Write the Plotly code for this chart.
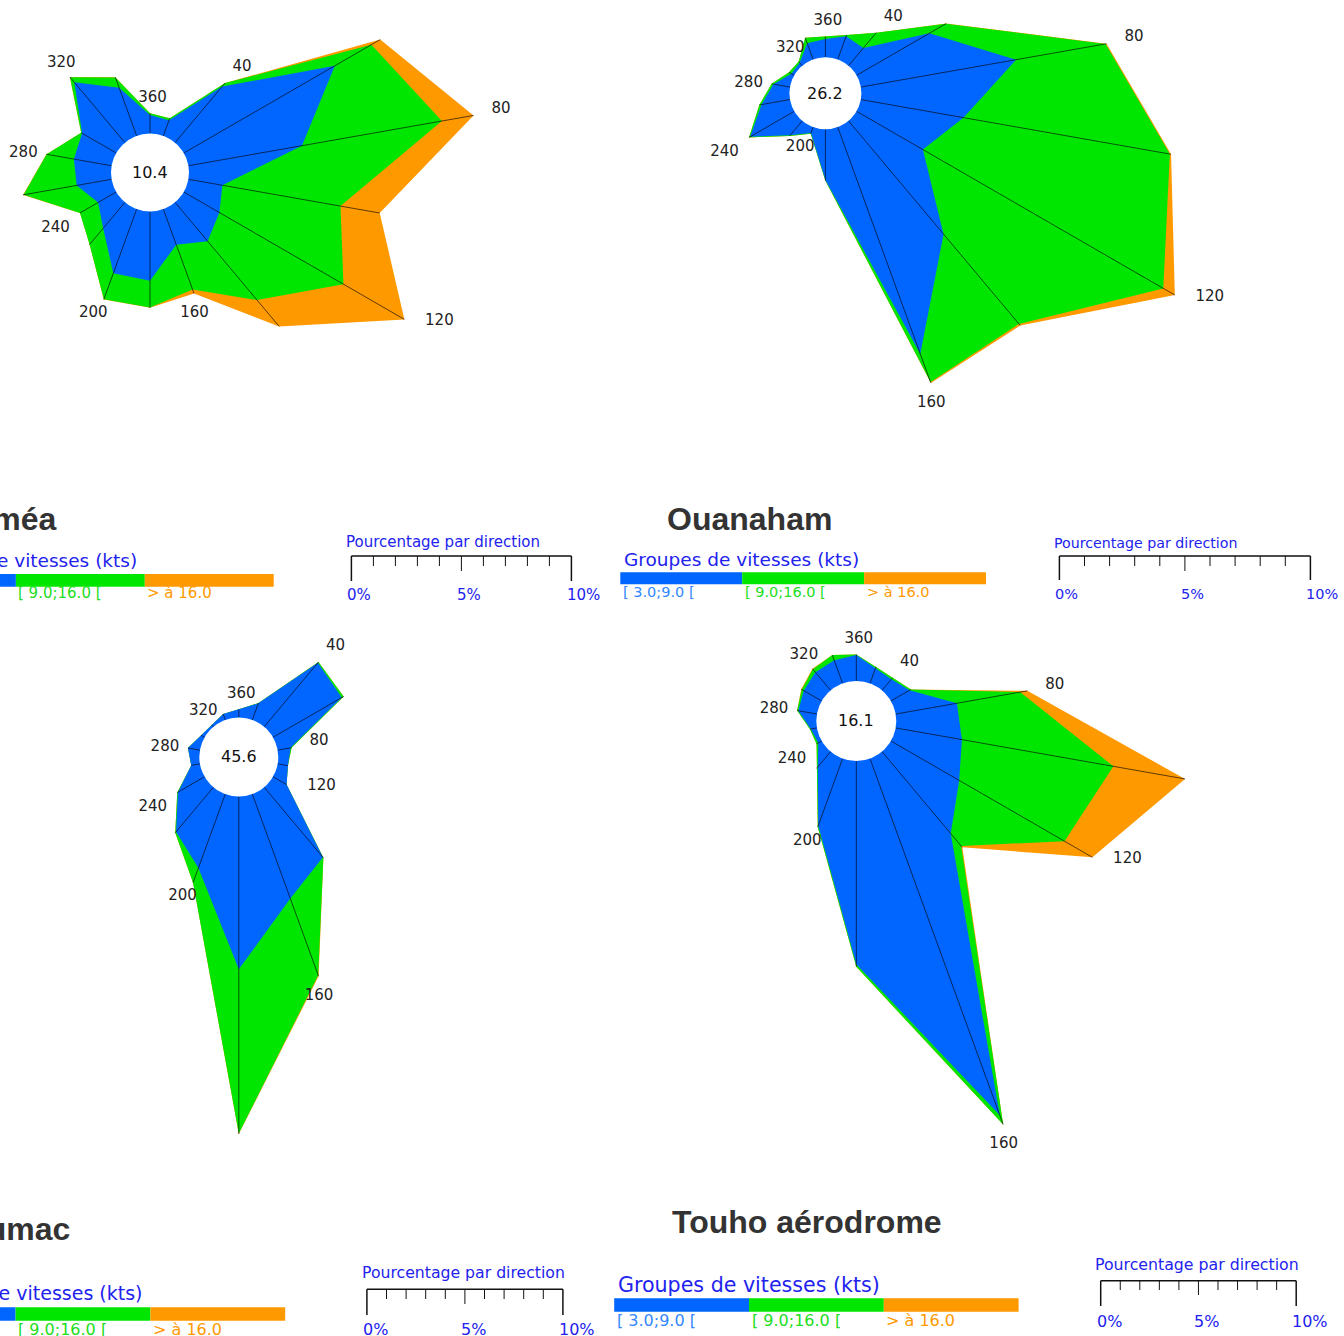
import numpy as np
import plotly.graph_objects as go

W, H = 1344, 1336

# ---------------- data ----------------
DIRECTIONS = list(range(20, 361, 20))          # 20 .. 360 degrees
LABELED_DIRECTIONS = [40, 80, 120, 160, 200, 240, 280, 320, 360]
STATIONS = ["Nouméa", "Ouanaham", "Koumac", "Touho aérodrome"]
CALM = [10.4, 26.2, 45.6, 16.1]
SPEED_GROUPS = ["[ 3.0;9.0 [", "[ 9.0;16.0 [", "> à 16.0"]
LEGEND_TITLE = "Groupes de vitesses (kts)"
SCALE_TITLE = "Pourcentage par direction"
SCALE_TICK_VALUES = [0, 5, 10]
SCALE_TICK_LABELS = ["0%", "5%", "10%"]

# percentages per direction (20,40,...,360) and speed group
NOUMEA_3_9 = [0.75, 3.33, 7.93, 5.24, 1.57, 1.87, 2.30, 1.72, 3.15, 3.10, 1.54, 0.95, 1.61, 1.74, 1.79, 3.58, 2.33, 0.84]
NOUMEA_9_16 = [0.10, 0.21, 1.92, 6.46, 5.45, 6.51, 3.50, 2.17, 1.21, 1.26, 0.96, 0.95, 2.45, 1.26, 0.05, 0.30, 0.49, 0.08]
NOUMEA_GT16 = [0.00, 0.00, 0.46, 1.46, 1.81, 3.20, 1.56, 0.19, 0.02, 0.01, 0.00, 0.00, 0.03, 0.01, 0.00, 0.02, 0.01, 0.00]

OUANAHAM_3_9 = [0.98, 0.92, 3.35, 6.28, 4.15, 3.05, 5.89, 9.62, 2.02, 0.25, 0.75, 2.03, 1.15, 0.67, 0.13, 0.16, 0.69, 0.73]
OUANAHAM_9_16 = [0.06, 0.80, 0.76, 3.62, 8.35, 11.06, 4.67, 1.19, 0.03, 0.03, 0.03, 0.05, 0.09, 0.07, 0.11, 0.06, 0.23, 0.09]
OUANAHAM_GT16 = [0.00, 0.00, 0.01, 0.04, 0.05, 0.53, 0.08, 0.04, 0.00, 0.00, 0.00, 0.00, 0.00, 0.00, 0.00, 0.00, 0.00, 0.00]

KOUMAC_3_9 = [0.90, 4.26, 4.05, 0.67, 0.53, 0.80, 4.66, 5.67, 8.82, 4.01, 2.97, 1.57, 0.45, 0.62, 0.20, 0.13, 0.32, 0.42]
KOUMAC_9_16 = [0.02, 0.05, 0.11, 0.05, 0.00, 0.00, 0.04, 4.16, 8.37, 0.80, 0.06, 0.04, 0.00, 0.00, 0.00, 0.00, 0.00, 0.00]
KOUMAC_GT16 = [0.00, 0.00, 0.00, 0.00, 0.00, 0.00, 0.00, 0.06, 0.03, 0.00, 0.00, 0.00, 0.00, 0.00, 0.00, 0.00, 0.00, 0.00]

TOUHO_3_9 = [0.82, 0.75, 1.10, 3.18, 3.44, 4.03, 5.47, 19.42, 10.40, 3.65, 1.02, 0.20, 0.32, 0.97, 1.06, 1.21, 1.26, 1.33]
TOUHO_9_16 = [0.08, 0.09, 0.08, 3.28, 7.87, 6.22, 0.83, 0.50, 0.13, 0.07, 0.10, 0.10, 0.04, 0.06, 0.11, 0.20, 0.28, 0.03]
TOUHO_GT16 = [0.00, 0.00, 0.00, 0.38, 3.72, 1.65, 0.09, 0.00, 0.00, 0.00, 0.00, 0.00, 0.00, 0.00, 0.04, 0.04, 0.00, 0.00]

SERIES = [
    (NOUMEA_3_9, NOUMEA_9_16, NOUMEA_GT16),
    (OUANAHAM_3_9, OUANAHAM_9_16, OUANAHAM_GT16),
    (KOUMAC_3_9, KOUMAC_9_16, KOUMAC_GT16),
    (TOUHO_3_9, TOUHO_9_16, TOUHO_GT16),
]

# ---------------- style / layout ----------------
COLORS = ["#0066ff", "#00e600", "#ff9900"]
LABEL_COLORS = ["#3388ff", "#22dd22", "#ff9900"]
TEXT_BLUE = "#2222ee"
FONT = "DejaVu Sans"
TITLE_FONT = "Liberation Sans, Arial"

# rose geometry in pixels: centre, hole radius, pixels per percent, subplot area
PANELS = [
    dict(center=(150.0, 172.5), hole=39.0, k=22.0, dom_x=(0, 672), dom_y=(0, 470)),
    dict(center=(825.4, 93.3), hole=36.0, k=25.1, dom_x=(672, 1344), dom_y=(0, 470)),
    dict(center=(238.8, 757.0), hole=39.5, k=19.6, dom_x=(0, 672), dom_y=(620, 1200)),
    dict(center=(856.3, 721.0), hole=40.0, k=19.55, dom_x=(672, 1344), dom_y=(620, 1200)),
]
# direction label offsets (px, y down) from the outer vertex
LABEL_OFFSET = {360: (2.5, -15.5), 40: (17, -15.5), 80: (27.5, -6), 120: (35, 1.8),
                160: (0.5, 20), 200: (-10.5, 14), 240: (-24.5, 15), 280: (-23, -1),
                320: (-8.5, -13.5)}

# legends / scale bars, pixel positions
LEGENDS = [
    dict(title=(58, 518.5, "right"), lg=(139, 560.3, "right", 18.5), bar=(-113.0, 128.9, 574, 586.7),
         lab=(593.5, 15), sc=(344.4, 541.5, 15), x0=351.4, line_y=556, t_long=581, t_mid=571,
         t_min=566, sc_lab=(595, 15)),
    dict(title=(749.5, 518.5, "center"), lg=(621.7, 559.3, "left", 18.5), bar=(620.3, 121.9, 572.3, 584.3),
         lab=(592.3, 14.5), sc=(1052.4, 542.5, 14.2), x0=1059.4, line_y=556, t_long=580, t_mid=571,
         t_min=566, sc_lab=(594.5, 14.5)),
    dict(title=(72, 1228.5, "right"), lg=(144.7, 1292.6, "right", 19), bar=(-119.2, 134.8, 1307.3, 1320.7),
         lab=(1329, 16), sc=(360, 1272.5, 15.7), x0=366.9, line_y=1289.3, t_long=1315, t_mid=1304,
         t_min=1299, sc_lab=(1329, 16)),
    dict(title=(807, 1221.5, "center"), lg=(615.7, 1284.6, "left", 20.6), bar=(614.2, 134.8, 1298.3, 1311.7),
         lab=(1320, 16), sc=(1092.6, 1264.5, 15.75), x0=1100.7, line_y=1280.7, t_long=1306, t_mid=1295,
         t_min=1290, sc_lab=(1321, 16)),
]


def px(x):
    return x / W


def py(y):
    return 1 - y / H


fig = go.Figure()
layout = dict(width=W, height=H, margin=dict(l=0, r=0, t=0, b=0), paper_bgcolor="white",
              plot_bgcolor="rgba(0,0,0,0)", showlegend=False)
shapes, annotations = [], []
theta = np.deg2rad(DIRECTIONS)

for i, (name, calm, series, panel, leg) in enumerate(zip(STATIONS, CALM, SERIES, PANELS, LEGENDS)):
    n = "" if i == 0 else str(i + 1)
    xa, ya = "x" + n, "y" + n
    cx, cy = panel["center"]
    k = panel["k"]
    h = panel["hole"] / k
    (x0d, x1d), (y0d, y1d) = panel["dom_x"], panel["dom_y"]
    layout["xaxis" + n] = dict(domain=[x0d / W, x1d / W], range=[(x0d - cx) / k, (x1d - cx) / k],
                               visible=False, fixedrange=True, anchor=ya)
    layout["yaxis" + n] = dict(domain=[1 - y1d / H, 1 - y0d / H], range=[(cy - y1d) / k, (cy - y0d) / k],
                               visible=False, fixedrange=True, anchor=xa)

    cum = np.cumsum(np.array(series, dtype=float), axis=0)   # blue, blue+green, total
    for level in (2, 1, 0):
        r = h + cum[level]
        xs = list(r * np.sin(theta)) + [r[0] * np.sin(theta[0])]
        ys = list(r * np.cos(theta)) + [r[0] * np.cos(theta[0])]
        fig.add_trace(go.Scatter(x=xs, y=ys, mode="lines", fill="toself", fillcolor=COLORS[level],
                                 line=dict(width=0, color=COLORS[level]), hoverinfo="skip",
                                 xaxis=xa, yaxis=ya))
    # spokes
    sx, sy = [], []
    for t, tot in zip(theta, cum[2]):
        sx += [h * np.sin(t), (h + tot) * np.sin(t), None]
        sy += [h * np.cos(t), (h + tot) * np.cos(t), None]
    fig.add_trace(go.Scatter(x=sx, y=sy, mode="lines", line=dict(width=0.7, color="rgba(0,0,0,0.9)"),
                             hoverinfo="skip", xaxis=xa, yaxis=ya))
    # direction labels
    lx, ly, lt = [], [], []
    for d in LABELED_DIRECTIONS:
        j = DIRECTIONS.index(d)
        r = h + cum[2][j]
        ox, oy = LABEL_OFFSET[d]
        lx.append(r * np.sin(theta[j]) + ox / k)
        ly.append(r * np.cos(theta[j]) - oy / k)
        lt.append(str(d))
    fig.add_trace(go.Scatter(x=lx, y=ly, mode="text", text=lt, cliponaxis=False,
                             textfont=dict(family=FONT, size=15, color="#222222"),
                             hoverinfo="skip", xaxis=xa, yaxis=ya))
    # calm circle
    shapes.append(dict(type="circle", xref=xa, yref=ya, x0=-h, x1=h, y0=-h, y1=h,
                       fillcolor="white", line=dict(width=0), layer="above"))
    annotations.append(dict(xref=xa, yref=ya, x=0, y=0, text=f"{calm:.1f}", showarrow=False,
                            font=dict(family=FONT, size=16, color="#111111")))

    # station title
    tx, tyy, tanchor = leg["title"]
    annotations.append(dict(xref="paper", yref="paper", x=px(tx), y=py(tyy), xanchor=tanchor,
                            yanchor="middle", text=f"<b>{name}</b>", showarrow=False,
                            font=dict(family=TITLE_FONT, size=32, color="#333333")))
    # speed legend
    gx, gy, ganchor, gsize = leg["lg"]
    annotations.append(dict(xref="paper", yref="paper", x=px(gx), y=py(gy), xanchor=ganchor,
                            yanchor="middle", text=LEGEND_TITLE, showarrow=False,
                            font=dict(family=FONT, size=gsize, color=TEXT_BLUE)))
    bx, seg, by0, by1 = leg["bar"]
    lab_y, lab_size = leg["lab"]
    for s, (lab, col, lcol) in enumerate(zip(SPEED_GROUPS, COLORS, LABEL_COLORS)):
        shapes.append(dict(type="rect", xref="paper", yref="paper", x0=px(bx + s * seg),
                           x1=px(bx + (s + 1) * seg), y0=py(by1), y1=py(by0),
                           fillcolor=col, line=dict(width=0)))
        annotations.append(dict(xref="paper", yref="paper", x=px(bx + s * seg + 0.5), y=py(lab_y),
                                xanchor="left", yanchor="middle", text=lab, showarrow=False,
                                font=dict(family=FONT, size=lab_size, color=lcol)))
    # scale bar
    stx, sty, ssize = leg["sc"]
    annotations.append(dict(xref="paper", yref="paper", x=px(stx), y=py(sty), xanchor="left",
                            yanchor="middle", text=SCALE_TITLE, showarrow=False,
                            font=dict(family=FONT, size=ssize, color=TEXT_BLUE)))
    sx0, ly0 = leg["x0"], leg["line_y"]
    shapes.append(dict(type="line", xref="paper", yref="paper", x0=px(sx0), x1=px(sx0 + 10 * k),
                       y0=py(ly0), y1=py(ly0), line=dict(color="#111111", width=1.5)))
    for p in range(11):
        bottom = leg["t_long"] if p in (0, 10) else (leg["t_mid"] if p == 5 else leg["t_min"])
        shapes.append(dict(type="line", xref="paper", yref="paper", x0=px(sx0 + p * k), x1=px(sx0 + p * k),
                           y0=py(ly0), y1=py(bottom),
                           line=dict(color="#111111", width=1.5 if p in (0, 10) else 1)))
    sly, slsize = leg["sc_lab"]
    for v, t in zip(SCALE_TICK_VALUES, SCALE_TICK_LABELS):
        annotations.append(dict(xref="paper", yref="paper", x=px(sx0 + v * k - 6), y=py(sly),
                                xanchor="left", yanchor="middle", text=t, showarrow=False,
                                font=dict(family=FONT, size=slsize, color=TEXT_BLUE)))

layout["shapes"] = shapes
layout["annotations"] = annotations
fig.update_layout(**layout)
fig.write_html("out.html")
